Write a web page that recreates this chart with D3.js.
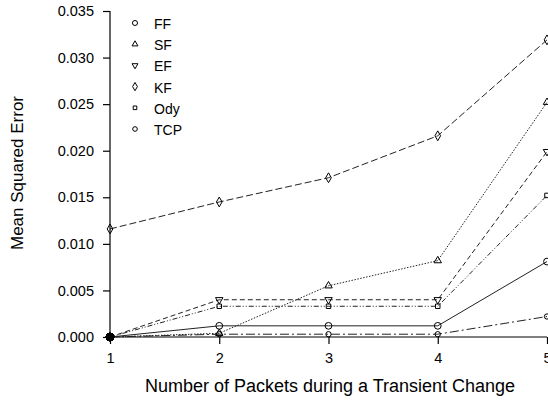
<!DOCTYPE html>
<html><head><meta charset="utf-8">
<script src="https://cdn.jsdelivr.net/npm/d3@7"></script>
<style>body{margin:0;background:#fff}svg{display:block}text{font-family:"Liberation Sans",Arial,sans-serif;fill:#000}</style>
</head><body>
<svg id="c" width="548" height="400"></svg>
<script>
const packets = [1, 2, 3, 4, 5];
const seriesNames = ["FF", "SF", "EF", "KF", "Ody", "TCP"];
const ffValues  = [0, 0.0012, 0.0012, 0.0012, 0.0081];
const sfValues  = [0, 0.0004, 0.0055, 0.0082, 0.0252];
const efValues  = [0, 0.0040, 0.0040, 0.0040, 0.0199];
const kfValues  = [0.0116, 0.0145, 0.0171, 0.0216, 0.0319];
const odyValues = [0, 0.0033, 0.0033, 0.0033, 0.0152];
const tcpValues = [0, 0.0003, 0.0003, 0.0003, 0.0022];
const yTicks = [0, 0.005, 0.010, 0.015, 0.020, 0.025, 0.030, 0.035];
const xTitle = "Number of Packets during a Transient Change";
const yTitle = "Mean Squared Error";

const allValues = [ffValues, sfValues, efValues, kfValues, odyValues, tcpValues];
const dashes = [null, "1.5,1.5", "5,3", "7,3", "5,2,1,2,1,2", "9,3,2,3"];
const symbols = [d3.symbolCircle, d3.symbolTriangle, "tri-down", d3.symbolDiamond, d3.symbolSquare, d3.symbolCircle];
const sizes = [36, 24, 24, 28, 20, 22];
const legendSizes = [20, 15, 15, 20, 13, 17];

const svg = d3.select("#c");
const x = d3.scaleLinear().domain([1, 5]).range([110, 547]);
const y = d3.scaleLinear().domain([0, 0.035]).range([337, 11]);

function symPath(i, size) {
  const s = symbols[i];
  if (s === "tri-down") return d3.symbol(d3.symbolTriangle, size)();
  return d3.symbol(s, size)();
}

// axes
const yAxis = d3.axisLeft(y).tickValues(yTicks).tickFormat(d3.format(".3f")).tickSize(7).tickPadding(9);
const gy = svg.append("g").attr("transform", "translate(110,0)").call(yAxis);
const xAxis = d3.axisBottom(x).tickValues(packets).tickFormat(d3.format("d")).tickSize(7).tickPadding(9);
const gx = svg.append("g").attr("transform", "translate(0,337)").call(xAxis);
[gx, gy].forEach(g => {
  g.attr("font-size", null).attr("font-family", null);
  g.select(".domain").attr("stroke", "#000").attr("stroke-width", 1.2);
  g.selectAll(".tick line").attr("stroke", "#000").attr("stroke-width", 1.2);
  g.selectAll(".tick text").style("font-size", "14.5px").attr("fill", "#000");
});
gy.select(".domain").attr("d", "M0,337V11");
gx.select(".domain").attr("d", "M110,0H547");

// lines
const line = d3.line().x((d, i) => x(packets[i])).y(d => y(d));
allValues.forEach((vals, si) => {
  svg.append("path").datum(vals).attr("d", line)
    .attr("fill", "none").attr("stroke", "#222").attr("stroke-width", 1)
    .attr("stroke-dasharray", dashes[si]);
});
// markers
allValues.forEach((vals, si) => {
  svg.append("g").selectAll("path").data(vals).join("path")
    .attr("d", (d, i) => i === 0 && d === 0 ? d3.symbol(d3.symbolCircle, 50)() : symPath(si, sizes[si]))
    .attr("transform", (d, i) => `translate(${x(packets[i])},${y(d)})` + (symbols[si] === "tri-down" && !(i === 0 && d === 0) ? " rotate(180)" : ""))
    .attr("fill", (d, i) => i === 0 && d === 0 ? "#000" : "none")
    .attr("stroke", "#000").attr("stroke-width", 1);
});

// legend
seriesNames.forEach((name, si) => {
  const ly = 23 + si * 21.2;
  svg.append("path").attr("d", symPath(si, legendSizes[si]))
    .attr("transform", `translate(135,${ly})` + (symbols[si] === "tri-down" ? " rotate(180)" : ""))
    .attr("fill", "none").attr("stroke", "#000").attr("stroke-width", 1);
  svg.append("text").attr("x", 154).attr("y", ly + 6).style("font-size", "14px").text(name);
});

// titles
svg.append("text").attr("x", 330).attr("y", 391.5).attr("text-anchor", "middle").style("font-size", "18px").text(xTitle);
svg.append("text").attr("transform", "translate(23,173) rotate(-90)").attr("text-anchor", "middle").style("font-size", "17px").text(yTitle);
</script>
</body></html>
